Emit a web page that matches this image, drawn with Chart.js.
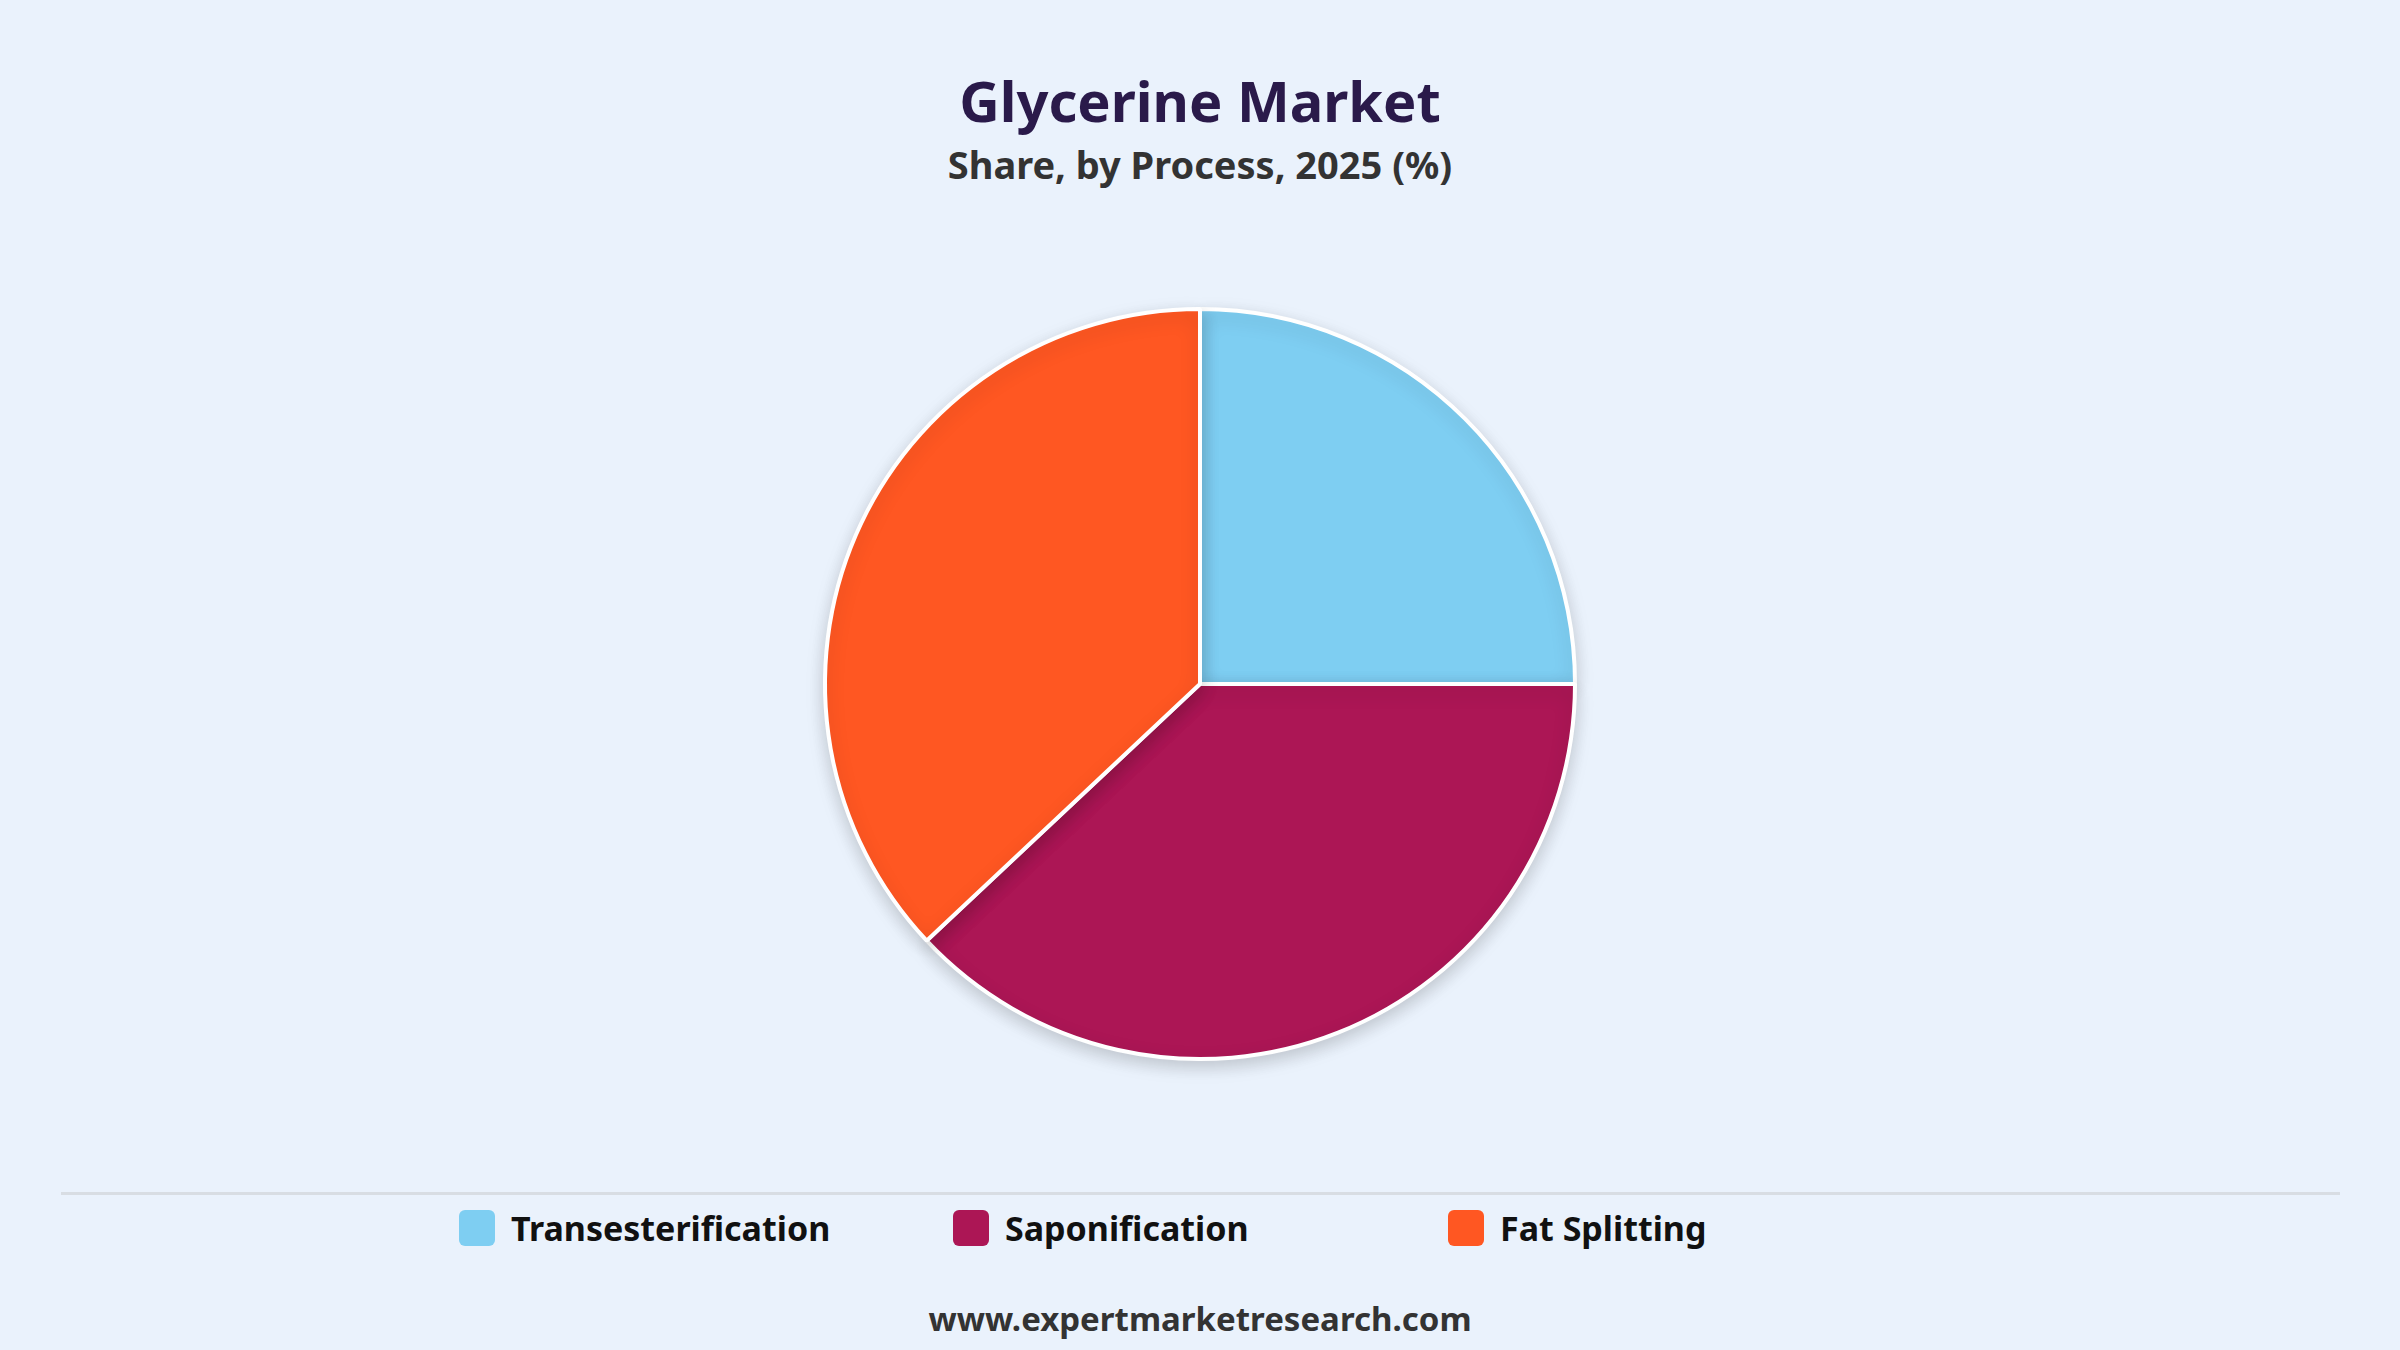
<!DOCTYPE html>
<html>
<head>
<meta charset="utf-8">
<script src="https://cdn.jsdelivr.net/npm/chart.js@4"></script>
<style>
  body { margin:0; width:2400px; height:1350px; background:#eaf2fc; font-family:"Noto Sans", sans-serif; position:relative; overflow:hidden; }
  #titulo { position:absolute; top:62px; width:100%; text-align:center; font-size:56px; font-weight:bold; color:#2a1a4a; }
  #sub { position:absolute; top:138px; width:100%; text-align:center; font-size:38px; font-weight:bold; color:#333; }
  #area { position:absolute; left:0; top:249px; width:2400px; height:870px; }
  #linha { position:absolute; left:61px; width:2279px; top:1192px; border-top:3px solid #d8dde3; }
  #legenda { position:absolute; top:1205px; left:0; width:100%; height:50px; }
  .item { position:absolute; display:flex; align-items:center; font-size:34px; font-weight:bold; color:#111; }
  .caixa { width:36px; height:36px; border-radius:6px; margin-right:16px; }
  #rodape { position:absolute; top:1296px; width:100%; text-align:center; font-size:33px; font-weight:bold; color:#333; }
</style>
</head>
<body>
<div id="titulo">Glycerine Market</div>
<div id="sub">Share, by Process, 2025 (%)</div>
<div id="area"><canvas id="grafico"></canvas></div>
<div id="linha"></div>
<div id="legenda"></div>
<div id="rodape">www.expertmarketresearch.com</div>
<script>
// Dados do gráfico
const categorias = ["Transesterification", "Saponification", "Fat Splitting"];
const valores = [25, 38, 37];
const cores = ["#7ecef2", "#ac1655", "#ff5722"];

// Legenda em HTML
const legenda = document.getElementById("legenda");
const posX = [459, 953, 1448];
categorias.forEach((nome, i) => {
  const el = document.createElement("div");
  el.className = "item";
  el.style.left = posX[i] + "px";
  el.innerHTML = `<div class="caixa" style="background:${cores[i]}"></div>${nome}`;
  legenda.appendChild(el);
});

// Sombra suave atrás da pizza
const sombra = {
  id: "sombra",
  beforeDatasetsDraw(chart) {
    chart.ctx.save();
    chart.ctx.shadowColor = "rgba(0,0,0,0.18)";
    chart.ctx.shadowBlur = 18;
    chart.ctx.shadowOffsetY = 6;
  },
  afterDatasetsDraw(chart) { chart.ctx.restore(); }
};

new Chart(document.getElementById("grafico").getContext("2d"), {
  type: "pie",
  data: {
    labels: categorias,
    datasets: [{
      data: valores,
      backgroundColor: cores,
      borderColor: "#ffffff",
      borderWidth: 4,
      radius: 375
    }]
  },
  options: {
    responsive: true,
    maintainAspectRatio: false,
    animation: false,
    plugins: { legend: { display: false }, tooltip: { enabled: false } }
  },
  plugins: [sombra]
});
</script>
</body>
</html>
